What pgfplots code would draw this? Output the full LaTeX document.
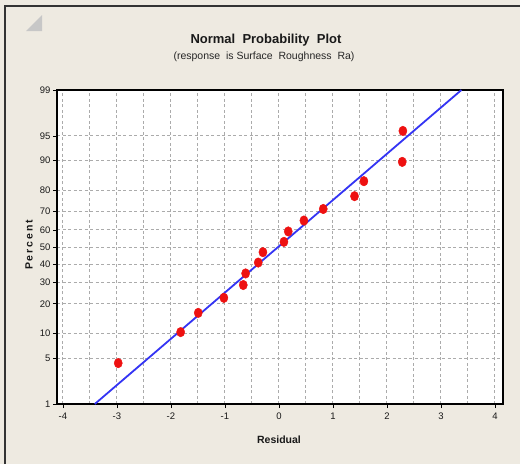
\documentclass[border=0pt]{standalone}
\usepackage{pgfplots}
\pgfplotsset{compat=1.18}
\usepackage{fontspec}
\setmainfont{Liberation Sans}
\definecolor{bgc}{HTML}{EEEAE1}
\definecolor{gridc}{HTML}{ABABAB}
\definecolor{pred}{HTML}{EE1111}
\definecolor{lblue}{HTML}{3434F4}
\begin{document}
\begin{tikzpicture}[x=1pt,y=1pt]
\fill[bgc] (0,0) rectangle (520,-464);
\useasboundingbox (0,0) rectangle (520,-464);
\draw[black!80, line width=1.2pt] (5,-464) -- (5,-6) -- (520,-6);
\fill[black!22] (26,-31) -- (42,-15) -- (42,-31) -- cycle;
\begin{axis}[at={(57pt,-404pt)}, anchor=south west, scale only axis,
  width=446pt, height=314pt,
  xmin=-4.11, xmax=4.15, ymin=-2.3263, ymax=2.3263,
  axis background/.style={fill=white},
  axis line style={black, line width=1.3pt},
  xtick={-4,-3,-2,-1,0,1,2,3,4},
  minor xtick={-3.5,-2.5,-1.5,-0.5,0.5,1.5,2.5,3.5},
  ytick={-2.3263,-1.6449,-1.2816,-0.8416,-0.5244,-0.2533,0,0.2533,0.5244,0.8416,1.2816,1.6449,2.3263},
  yticklabels={1,5,10,20,30,40,50,60,70,80,90,95,99},
  xmajorgrids, ymajorgrids, xminorgrids,
  major grid style={gridc, line width=1pt, dash pattern=on 3pt off 2.5pt},
  minor grid style={gridc, line width=1pt, dash pattern=on 3pt off 2.5pt},
  tick align=outside, major tick length=4pt, minor tick length=0pt,
  tick style={black, line width=0.8pt},
  xtick pos=bottom, ytick pos=left,
  /pgf/number format/assume math mode=true,
  tick label style={font=\fontsize{9.5}{10}\selectfont, black!90},
  xticklabel style={yshift=-1pt},
  yticklabel style={xshift=1pt},
  clip=false,
]
\addplot[lblue, line width=1.8pt] coordinates {(-3.41,-2.3263) (3.38,2.3263)};
\addplot[only marks, mark=*, mark size=4.8pt, pred, mark options={xscale=0.85, draw=pred, fill=pred}] coordinates {
(-2.976,-1.720) (-1.82,-1.261) (-1.494,-0.9755) (-1.019,-0.753)
(-0.66,-0.5635) (-0.617,-0.392) (-0.383,-0.2305) (-0.296,-0.0765)
(0.093,0.0765) (0.173,0.2305) (0.463,0.392) (0.821,0.5635)
(1.40,0.753) (1.574,0.9755) (2.284,1.261) (2.296,1.720)
};
\end{axis}
\node[font=\fontsize{13}{15}\bfseries\selectfont, black!90] at (266,-40) {Normal\ \ Probability\ \ Plot};
\node[font=\fontsize{10.5}{12}\selectfont, black!85] at (264,-57) {(response\ \ is Surface\ \ Roughness\ \ Ra)};
\node[font=\fontsize{10.5}{12}\bfseries\selectfont, black!90] at (279,-440) {Residual};
\node[font=\fontsize{10.5}{12}\bfseries\selectfont, black!90, rotate=90] at (29,-245) {\addfontfeature{LetterSpace=18}Percent};
\end{tikzpicture}
\end{document}
